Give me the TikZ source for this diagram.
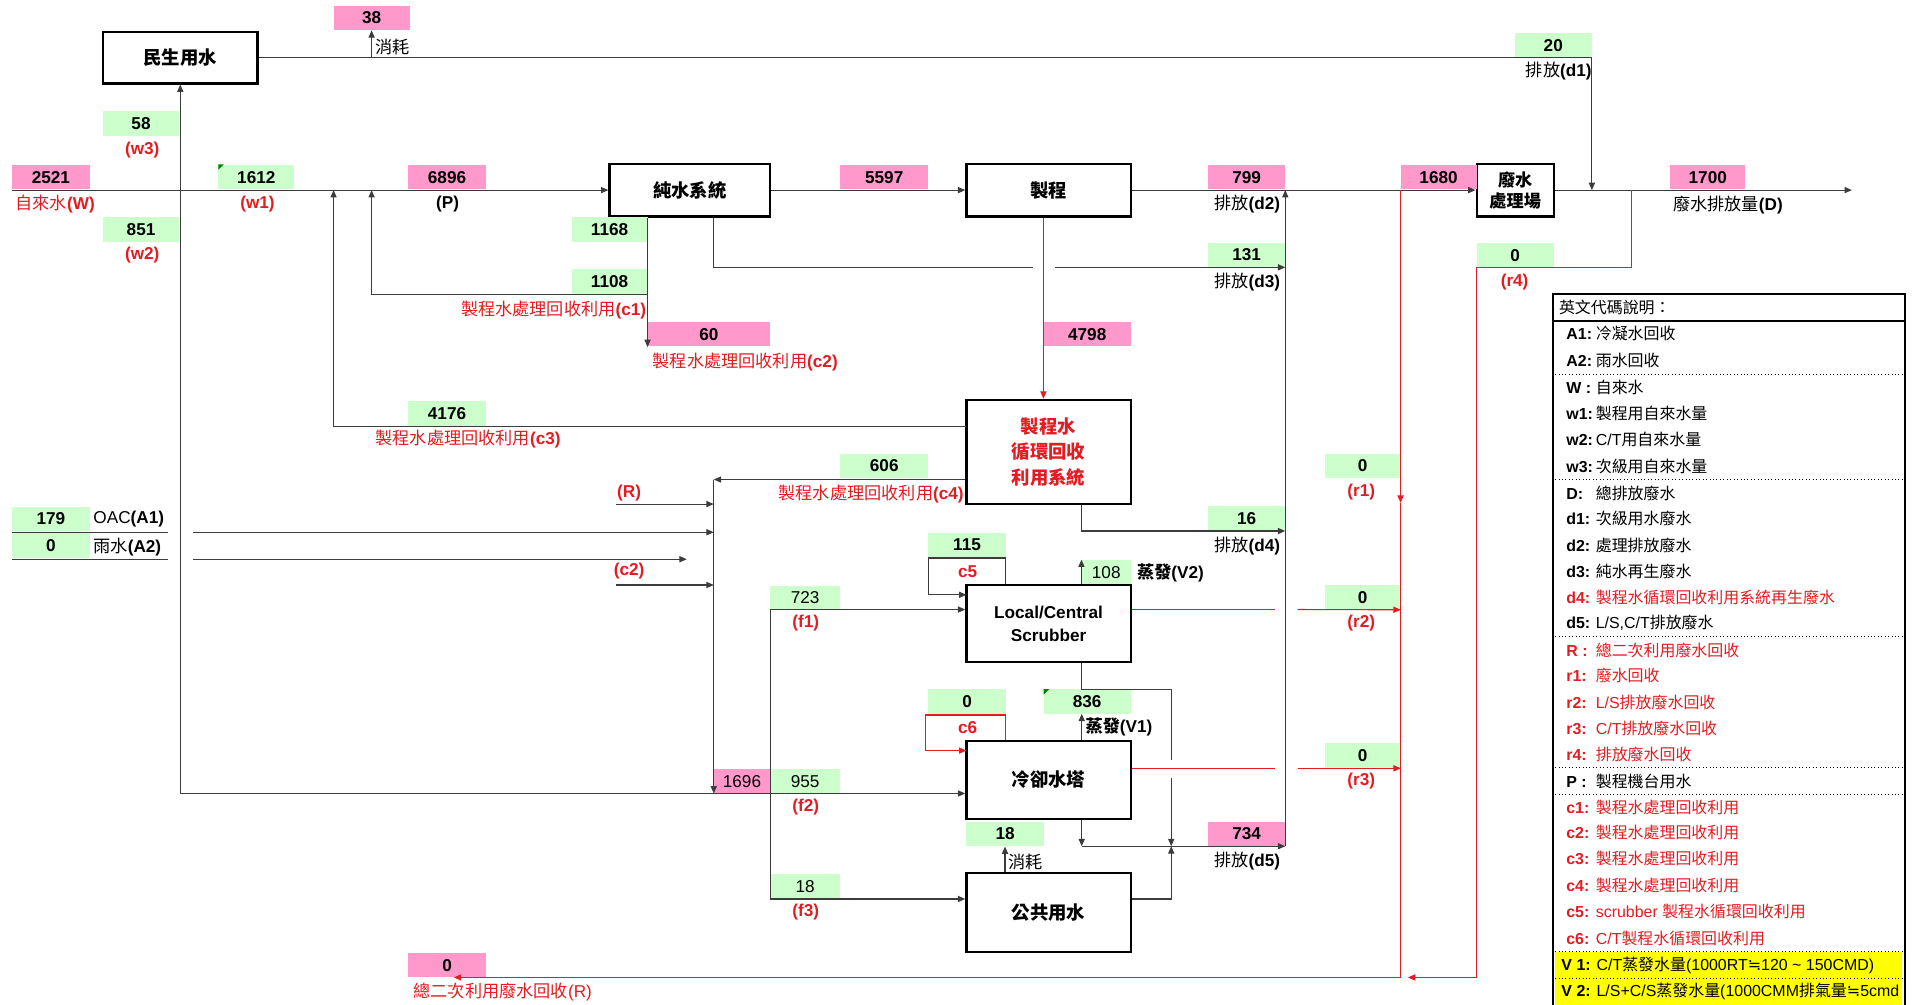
\documentclass[tikz,border=0pt]{standalone}
\usepackage{fontspec}
\setmainfont{Liberation Sans}
\newfontfamily\cjk{Noto Sans CJK TC}
\newfontfamily\djv{DejaVu Sans}
\usetikzlibrary{arrows.meta}
\definecolor{gfill}{RGB}{204,255,204}
\definecolor{pfill}{RGB}{255,153,204}
\definecolor{rd}{RGB}{226,28,33}
\definecolor{ln}{RGB}{60,60,60}
\definecolor{yfill}{RGB}{255,255,0}
\newcommand\zh[1]{{\cjk #1}}
\newcommand\approxsym{{\djv ≒}}
\newcommand\fNum{\fontsize{14}{16}\selectfont\bfseries}
\newcommand\fNumR{\fontsize{14}{16}\selectfont}
\newcommand\fLab{\fontsize{14}{16}\selectfont}
\newcommand\fLeg{\fontsize{13}{15}\selectfont}
\newcommand\fBlk{\fontsize{15}{19}\selectfont\bfseries}
\newcommand\lgc[1]{\makebox[24pt][l]{\textbf{#1}}}
\begin{document}
\begin{tikzpicture}[x=1pt,y=-1pt,
  >={Triangle[length=6pt,width=5pt]},
  flow/.style={draw=ln, line width=0.9pt},
  rflow/.style={draw=rd, line width=0.9pt},
  blk/.style={draw=black, line width=1.8pt, fill=white, align=center, font=\fBlk, inner sep=0},
  num/.style={inner sep=0, minimum height=20, font=\fNum},
  gn/.style={num, fill=gfill},
  pn/.style={num, fill=pfill},
  lbl/.style={inner sep=0, font=\fLab},
  rl/.style={lbl, text=rd},
  rlb/.style={rl, font=\fLab\bfseries},
  lg/.style={inner sep=0, anchor=west, font=\fLeg},
  lgr/.style={lg, text=rd},
]
\useasboundingbox (0,0) rectangle (1568,819);

% ---------- boxes ----------
\node[blk, minimum width=126, minimum height=42] (ms) at (147,47) {\zh{民生用水}};
\node[blk, minimum width=131, minimum height=43] (pw) at (562.5,155) {\zh{純水系統}};
\node[blk, minimum width=134, minimum height=43] (proc) at (855,155) {\zh{製程}};
\node[blk, minimum width=63, minimum height=43, font=\fontsize{14}{17}\selectfont\bfseries] (wwt) at (1235.5,155) {\zh{廢水}\\\zh{處理場}};
\node[blk, minimum width=134, minimum height=85, text=rd, font=\fontsize{15}{21}\selectfont\bfseries] (rec) at (855,368.5) {\zh{製程水}\\\zh{循環回收}\\\zh{利用系統}};
\node[blk, minimum width=134, minimum height=63, font=\fontsize{14}{19}\selectfont\bfseries] (scr) at (855,508.5) {Local/Central\\Scrubber};
\node[blk, minimum width=134, minimum height=64] (ct) at (855,636) {\zh{冷卻水塔}};
\node[blk, minimum width=134, minimum height=64] (pub) at (855,744) {\zh{公共用水}};

% ---------- numbers ----------
\node[pn, minimum width=62] (n38) at (303,14.5) {38};
\node[gn, minimum width=63] (n20) at (1266.5,37) {20};
\node[gn, minimum width=62] (n58) at (115,100.5) {58};
\node[pn, minimum width=63] (n2521) at (41.5,144.5) {2521};
\node[gn, minimum width=62] (n1612) at (209,144.5) {1612};
\node[pn, minimum width=63] (n6896) at (364.5,144.5) {6896};
\node[pn, minimum width=72] (n5597) at (721,144.5) {5597};
\node[pn, minimum width=63] (n799) at (1016.5,144.5) {799};
\node[pn, minimum width=62] (n1680) at (1173,144.5) {1680};
\node[pn, minimum width=61] (n1700) at (1392.5,144.5) {1700};
\node[gn, minimum width=62] (n851) at (115,187) {851};
\node[gn, minimum width=62] (n1168) at (497,187) {1168};
\node[gn, minimum width=63] (n131) at (1016.5,208) {131};
\node[gn, minimum width=63] (nr4) at (1235.5,208) {0};
\node[gn, minimum width=62] (n1108) at (497,229.5) {1108};
\node[pn, minimum width=100] (n60) at (578,272.5) {60};
\node[pn, minimum width=71] (n4798) at (886.5,272.5) {4798};
\node[gn, minimum width=63] (n4176) at (364.5,337) {4176};
\node[gn, minimum width=72] (n606) at (721,380) {606};
\node[gn, minimum width=62] (nr1) at (1111,380) {0};
\node[gn, minimum width=63] (n179) at (41.5,423) {179};
\node[gn, minimum width=63] (n16) at (1016.5,422.5) {16};
\node[gn, minimum width=63] (na2) at (41.5,445) {0};
\node[gn, minimum width=63] (n115) at (788.5,444.5) {115};
\node[gn, minimum width=40, font=\fNumR] (n108) at (902,466.5) {108};
\node[gn, minimum width=57, font=\fNumR] (n723) at (656.5,487.5) {723};
\node[gn, minimum width=62] (nr2) at (1111,487) {0};
\node[gn, minimum width=63] (nc6) at (788.5,572) {0};
\node[gn, minimum width=71] (n836) at (886.5,572) {836};
\node[gn, minimum width=62] (nr3) at (1111,616) {0};
\node[pn, minimum width=46, font=\fNumR] (n1696) at (605,637) {1696};
\node[gn, minimum width=57, font=\fNumR] (n955) at (656.5,637) {955};
\node[gn, minimum width=63] (n18) at (819.5,680) {18};
\node[pn, minimum width=63] (n734) at (1016.5,680) {734};
\node[gn, minimum width=57, font=\fNumR] (n18f) at (656.5,723) {18};
\node[pn, minimum width=63] (nR) at (364.5,787) {0};
% comment markers
\fill[green!50!black] (178,134) -- (182.5,134) -- (178,138.5) -- cycle;
\fill[green!50!black] (851,562) -- (855.5,562) -- (851,566.5) -- cycle;

% ---------- labels ----------
\node[lbl, anchor=west] (t38) at (306,38) {\zh{消耗}};
\node[lbl, anchor=east] (td1) at (1298,58) {\zh{排放}\textbf{(d1)}};
\node[rlb] (tw3) at (116,122) {(w3)};
\node[rl] (tW) at (45,166) {\zh{自來水}\textbf{(W)}};
\node[rlb] (tw1) at (210,166) {(w1)};
\node[lbl, font=\fLab\bfseries] (tP) at (365,166) {(P)};
\node[lbl] (td2) at (1017,166) {\zh{排放}\textbf{(d2)}};
\node[lbl, anchor=west] (tD) at (1364,167) {\zh{廢水排放量}\textbf{(D)}};
\node[rlb] (tw2) at (116,208) {(w2)};
\node[lbl] (td3) at (1017,230) {\zh{排放}\textbf{(d3)}};
\node[rlb] (tr4) at (1235,230) {(r4)};
\node[rl, anchor=east] (tc1) at (527,253) {\zh{製程水處理回收利用}\textbf{(c1)}};
\node[rl, anchor=west] (tc2) at (532,295) {\zh{製程水處理回收利用}\textbf{(c2)}};
\node[rl, anchor=west] (tc3) at (306,358) {\zh{製程水處理回收利用}\textbf{(c3)}};
\node[rlb] (tR) at (513,402) {(R)};
\node[rl, anchor=east] (tc4) at (786,403) {\zh{製程水處理回收利用}\textbf{(c4)}};
\node[rlb] (tr1) at (1110,401) {(r1)};
\node[lbl, anchor=west] (tA1) at (76,423) {OAC\textbf{(A1)}};
\node[lbl, anchor=west] (tA2) at (76,446) {\zh{雨水}\textbf{(A2)}};
\node[lbl] (td4) at (1017,445) {\zh{排放}\textbf{(d4)}};
\node[rlb] (tc5) at (789,466) {c5};
\node[lbl, anchor=west, font=\fLab\bfseries] (tV2) at (927,467) {\zh{蒸發}(V2)};
\node[rlb] (tc2b) at (513,466) {(c2)};
\node[rlb] (tf1) at (657,508) {(f1)};
\node[rlb] (tr2) at (1110,508) {(r2)};
\node[rlb] (tc6) at (789,593) {c6};
\node[lbl, anchor=west, font=\fLab\bfseries] (tV1) at (885,593) {\zh{蒸發}(V1)};
\node[rlb] (tr3) at (1110,637) {(r3)};
\node[rlb] (tf2) at (657,658) {(f2)};
\node[lbl] (td5) at (1017,702) {\zh{排放}\textbf{(d5)}};
\node[lbl, anchor=west] (t18) at (822,703) {\zh{消耗}};
\node[rlb] (tf3) at (657,744) {(f3)};
\node[rl, anchor=west] (tRR) at (337,809) {\zh{總二次利用廢水回收}(R)};

% ---------- coordinates ----------
\coordinate (Wst) at (10,155);
\coordinate (Dend) at (1510,155);
\coordinate (jw) at (147,155);
\coordinate (jw2) at (147,647);
\coordinate (jd1) at (1298,155);
\coordinate (j38) at (303,47);
\coordinate (jc3) at (272,155);
\coordinate (c3s) at (788,348);
\coordinate (jc1) at (303,155);
\coordinate (c1s) at (528,240);
\coordinate (c2s) at (pw.south -| c1s);
\coordinate (c2e) at (528,283);
\coordinate (d3k) at (582,218);
\coordinate (d3s) at (pw.south -| d3k);
\coordinate (d3g1) at (842,218);
\coordinate (d3g2) at (860,218);
\coordinate (d3e) at (1048,218);
\coordinate (d2e) at (1048,155);
\coordinate (d5e) at (1048,690);
\coordinate (d4e) at (1048,433);
\coordinate (d4s) at (rec.south -| n108.west);
\coordinate (c4e) at (582,391);
\coordinate (c4s) at (rec.west |- c4e);
\coordinate (mix) at (582,647);
\coordinate (Rs) at (502,411);
\coordinate (Re) at (582,411);
\coordinate (A1s) at (157,434);
\coordinate (A1e) at (582,434);
\coordinate (A2s) at (157,456);
\coordinate (A2e) at (560,456);
\coordinate (c2bs) at (502,477);
\coordinate (c2be) at (582,477);
\coordinate (f1s) at (628,497);
\coordinate (f3s) at (628,733);
\coordinate (c5k) at (820,455);
\coordinate (c5in) at (788,485);
\coordinate (r2a) at (1040,497);
\coordinate (r2b) at (1058,497);
\coordinate (r3a) at (1040,626.5);
\coordinate (r3b) at (1058,626.5);
\coordinate (sbk) at (955,562);
\coordinate (gapA) at (955,620);
\coordinate (gapB) at (955,634);
\coordinate (d5j) at (955,690);
\coordinate (ctb) at (882,690);
\coordinate (c6k) at (820,583);
\coordinate (c6in) at (788,612);
\coordinate (v1e) at (882,582);
\coordinate (r1top) at (1142,155);
\coordinate (r1arr) at (1142,410);
\coordinate (rbot) at (1142,797);
\coordinate (Rend) at (370,797);
\coordinate (r4s) at (1330,155);
\coordinate (r4k) at (1204,218);
\coordinate (r4b) at (1204,797);
\coordinate (r4e) at (1148,797);

% ---------- connectors ----------
\draw[flow,->] (Wst) -- (pw.west);
\draw[flow,->] (pw.east) -- (proc.west);
\draw[flow,->] (proc.east) -- (wwt.west);
\draw[flow,->] (wwt.east) -- (Dend);
\draw[flow,->] (jw) -- (ms.south);
\draw[flow,->] (jw) -- (jw2) -- (jw2 -| ct.west);
\draw[flow,->] (ms.east) -| (jd1);
\draw[flow,->] (j38) -- (n38.south);
\draw[flow,->] (c3s) -| (jc3);
\draw[flow,->] (c1s) -| (jc1);
\draw[flow,->] (c2s) -- (c2e);
\draw[flow] (d3s) |- (d3g1);
\draw[flow,->] (d3g2) -- (d3e);
\draw[rflow,->] (proc.south -| n4798.west) -- (rec.north -| n4798.west);
\draw[flow,->] (d5e) -- (d2e);
\draw[flow,->] (d4s) |- (d4e);
\draw[flow,->] (c4s) -- (c4e);
\draw[flow,->] (c4e) -- (mix);
\draw[flow,->] (Rs) -- (Re);
\draw[flow,->] (A1s) -- (A1e);
\draw[flow,->] (A2s) -- (A2e);
\draw[flow,->] (c2bs) -- (c2be);
\draw[flow] (10,434) -- (137,434);
\draw[flow] (10,456) -- (137,456);
\draw[flow] (f1s) -- (f3s);
\draw[flow,->] (f1s) -- (scr.west |- f1s);
\draw[flow,->] (f3s) -- (pub.west |- f3s);
\draw[flow,->] (scr.north -| c5k) -- (c5k) -- (757,455) -- (757,485) -- (c5in);
\draw[flow,->] (scr.north -| n108.west) -- (n108.north west);
\draw[rflow] (scr.east |- r2a) -- (r2a);
\draw[rflow,->] (r2b) -- (nr2.south east);
\draw[flow] (scr.south -| ctb) |- (sbk) -- (gapA);
\draw[flow,->] (gapB) -- (d5j);
\draw[flow,->] (pub.east |- f3s) -| (d5j);
\draw[flow,->] (ct.south -| ctb) -- (ctb);
\draw[flow,->] (ctb) -- (d5e);
\draw[rflow,->] (ct.north -| c6k) -- (c6k) -- (755,583) -- (755,612) -- (c6in);
\draw[flow,->] (ct.north -| v1e) -- (v1e);
\draw[rflow] (ct.east |- r3a) -- (r3a);
\draw[rflow,->] (r3b) -- (r3b -| nr3.east);
\draw[flow,->] (pub.north -| n18.south) -- (n18.south);
\draw[rflow,->] (r1top) -- (r1arr);
\draw[rflow,->] (r1arr) -- (rbot) -- (Rend);
\draw[rflow,->] (r4s) |- (r4k) -- (r4b) -- (r4e);

% ---------- legend ----------
\fill[yfill] (1268,776) rectangle (1551,798);
\fill[yfill] (1268,798.5) rectangle (1551,821);
\draw[line width=1.8pt] (1266,240) rectangle (1553,825);
\draw[line width=1.5pt] (1266,262) -- (1553,262);
\foreach \yy in {305,391,519,626,648,776,798}
  \draw[dotted, line width=0.8pt] (1268,\yy) -- (1551,\yy);
\node[lg] (lh) at (1271,251) {\zh{英文代碼說明：}};
\node[lg] (lA1) at (1277,272) {\lgc{A1:}\zh{冷凝水回收}};
\node[lg] (lA2) at (1277,294) {\lgc{A2:}\zh{雨水回收}};
\node[lg] (lW) at (1277,316) {\lgc{W :}\zh{自來水}};
\node[lg] (lw1) at (1277,337) {\lgc{w1:}\zh{製程用自來水量}};
\node[lg] (lw2) at (1277,358) {\lgc{w2:}C/T\zh{用自來水量}};
\node[lg] (lw3) at (1277,380) {\lgc{w3:}\zh{次級用自來水量}};
\node[lg] (lD) at (1277,402) {\lgc{D:}\zh{總排放廢水}};
\node[lg] (ld1) at (1277,423) {\lgc{d1:}\zh{次級用水廢水}};
\node[lg] (ld2) at (1277,445) {\lgc{d2:}\zh{處理排放廢水}};
\node[lg] (ld3) at (1277,466) {\lgc{d3:}\zh{純水再生廢水}};
\node[lgr] (ld4) at (1277,487) {\lgc{d4:}\zh{製程水循環回收利用系統再生廢水}};
\node[lg] (ld5) at (1277,508) {\lgc{d5:}L/S,C/T\zh{排放廢水}};
\node[lgr] (lR) at (1277,530) {\lgc{R :}\zh{總二次利用廢水回收}};
\node[lgr] (lr1) at (1277,551) {\lgc{r1:}\zh{廢水回收}};
\node[lgr] (lr2) at (1277,573) {\lgc{r2:}L/S\zh{排放廢水回收}};
\node[lgr] (lr3) at (1277,594) {\lgc{r3:}C/T\zh{排放廢水回收}};
\node[lgr] (lr4) at (1277,615) {\lgc{r4:}\zh{排放廢水回收}};
\node[lg] (lP) at (1277,637) {\lgc{P :}\zh{製程機台用水}};
\node[lgr] (lc1) at (1277,658) {\lgc{c1:}\zh{製程水處理回收利用}};
\node[lgr] (lc2) at (1277,679) {\lgc{c2:}\zh{製程水處理回收利用}};
\node[lgr] (lc3) at (1277,700) {\lgc{c3:}\zh{製程水處理回收利用}};
\node[lgr] (lc4) at (1277,722) {\lgc{c4:}\zh{製程水處理回收利用}};
\node[lgr] (lc5) at (1277,743) {\lgc{c5:}scrubber \zh{製程水循環回收利用}};
\node[lgr] (lc6) at (1277,765) {\lgc{c6:}C/T\zh{製程水循環回收利用}};
\node[lg] (lV1) at (1273,787) {\textbf{V 1:} C/T\zh{蒸發水量}(1000RT\approxsym 120 \textasciitilde{} 150CMD)};
\node[lg] (lV2) at (1273,808) {\textbf{V 2:} L/S+C/S\zh{蒸發水量}(1000CMM\zh{排氣量}\approxsym 5cmd};
\end{tikzpicture}
\end{document}
